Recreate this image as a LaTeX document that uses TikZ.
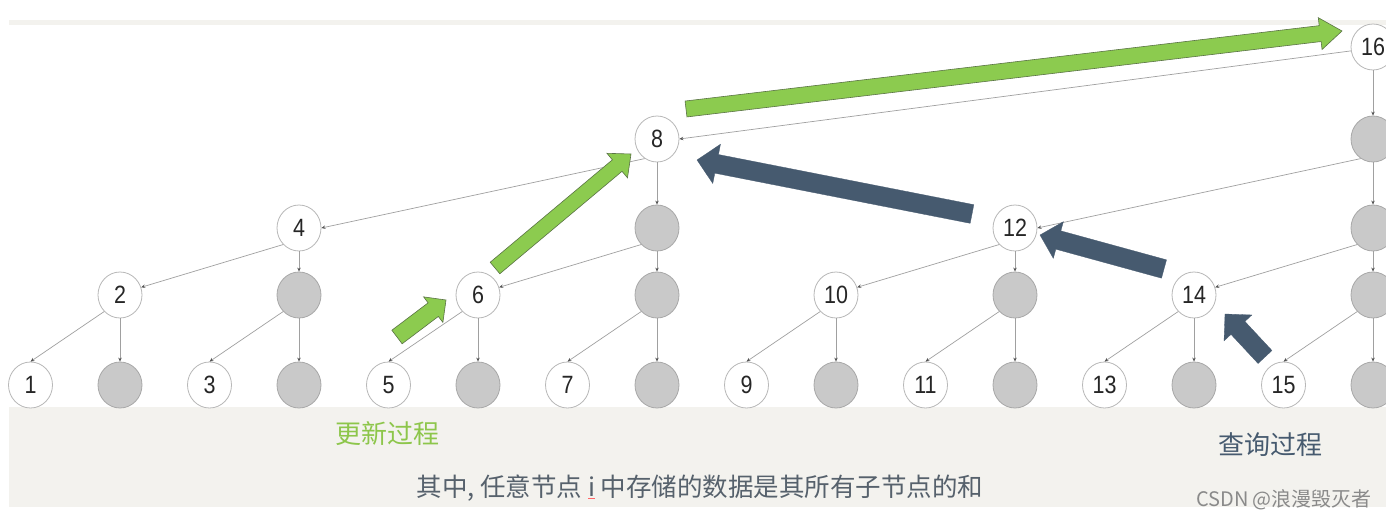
\documentclass[tikz,border=0pt]{standalone}
\usepackage{fontspec}
\setmainfont{Liberation Sans}
\newfontfamily\numfont[FakeStretch=0.86]{Liberation Sans}
\newfontfamily\cjk{Noto Sans CJK SC}
\usetikzlibrary{calc,arrows.meta,shapes.geometric}
\definecolor{edgec}{HTML}{A0A0A0}
\definecolor{tipc}{HTML}{555555}
\definecolor{nodeb}{HTML}{B8B8B8}
\definecolor{grayf}{HTML}{C9C9C9}
\definecolor{grayb}{HTML}{A8A8A8}
\definecolor{bandc}{HTML}{F3F2EE}
\definecolor{greenf}{HTML}{8CCB4F}
\definecolor{greenb}{HTML}{5A7345}
\definecolor{slate}{HTML}{465A6F}
\definecolor{txtgray}{HTML}{56616C}
\definecolor{greentxt}{HTML}{8DC64B}
\definecolor{wmark}{HTML}{8A8A8A}
% block arrow: #1 style, #2 tail, #3 tip, #4 half shaft, #5 half head, #6 head length
\newcommand{\bigarrow}[6]{%
  \coordinate (ba) at ($#3!#6!#2$);
  \filldraw[#1] ($#2!#4!90:#3$) -- ($(ba)!#4!90:#3$) -- ($(ba)!#5!90:#3$) -- #3
     -- ($(ba)!#5!-90:#3$) -- ($(ba)!#4!-90:#3$) -- ($#2!#4!-90:#3$) -- cycle;}
\begin{document}
\begin{tikzpicture}[x=1pt,y=-1pt,
  wn/.style={ellipse, draw=nodeb, fill=white, line width=0.8pt, minimum width=44pt,
     minimum height=46pt, inner sep=0pt, font=\numfont\fontsize{25}{25}\selectfont, text=black!85},
  gn/.style={wn, fill=grayf, draw=grayb},
  ed/.style={draw=edgec, line width=0.7pt, -{Stealth[length=4pt,width=3.5pt,color=tipc]}},
  garrow/.style={fill=greenf, draw=greenb, line width=0.6pt, line join=miter},
  darrow/.style={fill=slate, draw=slate, line width=0.3pt, line join=miter}]
\useasboundingbox (0,0) rectangle (1386,521);
\clip (0,0) rectangle (1386,521);
\fill[white] (0,0) rectangle (1386,521);
\fill[bandc] (9,20) rectangle (1386,25);
\fill[bandc] (9,407) rectangle (1386,507);
% leaves
\foreach \i in {1,...,16}{
  \pgfmathsetmacro\xx{30.5+89.5*(\i-1)}
  \ifodd\i \node[wn] (l\i) at (\xx,385) {\i}; \else \node[gn] (l\i) at (\xx,385) {}; \fi
}
% level 1
\foreach \i in {2,4,...,16}{
  \pgfmathsetmacro\xx{30.5+89.5*(\i-1)}
  \pgfmathtruncatemacro\r{mod(\i,4)}
  \ifnum\r=2 \node[wn] (m\i) at (\xx,295) {\i}; \else \node[gn] (m\i) at (\xx,295) {}; \fi
}
% level 2
\foreach \i in {4,8,12,16}{
  \pgfmathsetmacro\xx{30.5+89.5*(\i-1)}
  \pgfmathtruncatemacro\r{mod(\i,8)}
  \ifnum\r=4 \node[wn] (k\i) at (\xx,228) {\i}; \else \node[gn] (k\i) at (\xx,228) {}; \fi
}
% level 3
\node[wn] (j8) at (657,139) {8};
\node[gn] (j16) at (1373,139) {};
% level 4
\node[wn] (t16) at (1373,47) {16};
% edges
\foreach \i in {2,4,...,16}{
  \pgfmathtruncatemacro\a{\i-1}
  \draw[ed] (m\i.south west) -- (l\a.north);
  \draw[ed] (m\i) -- (l\i);
}
\foreach \i in {4,8,12,16}{
  \pgfmathtruncatemacro\a{\i-2}
  \draw[ed] (k\i.south west) -- (m\a.20);
  \draw[ed] (k\i) -- (m\i);
}
\foreach \i in {8,16}{
  \pgfmathtruncatemacro\a{\i-4}
  \draw[ed] (j\i.238) -- (k\a.east);
  \draw[ed] (j\i) -- (k\i);
}
\draw[ed] (t16.190) -- (j8.east);
\draw[ed] (t16) -- (j16);
% big arrows
\coordinate (g1a) at (686,109); \coordinate (g1b) at (1342,31);
\coordinate (g2a) at (495,268); \coordinate (g2b) at (631,154);
\coordinate (g3a) at (397,337); \coordinate (g3b) at (446,300);
\coordinate (d1a) at (972,214); \coordinate (d1b) at (697,160);
\coordinate (d2a) at (1164,269); \coordinate (d2b) at (1040,235);
\coordinate (d3a) at (1265,357); \coordinate (d3b) at (1225,314);
\bigarrow{garrow}{(g1a)}{(g1b)}{8pt}{16pt}{22pt}
\bigarrow{garrow}{(g2a)}{(g2b)}{7.5pt}{16pt}{18pt}
\bigarrow{garrow}{(g3a)}{(g3b)}{8.5pt}{16pt}{16pt}
\bigarrow{darrow}{(d1a)}{(d1b)}{9.5pt}{20pt}{20pt}
\bigarrow{darrow}{(d2a)}{(d2b)}{9.5pt}{19pt}{19pt}
\bigarrow{darrow}{(d3a)}{(d3b)}{9.5pt}{19pt}{19pt}
% texts
\node[font=\cjk\fontsize{26}{26}\selectfont, text=greentxt] (upd) at (387,434) {更新过程};
\node[font=\cjk\fontsize{26}{26}\selectfont, text=slate] (qry) at (1270,445) {查询过程};
\node[font=\cjk\fontsize{25.5}{25.5}\selectfont, text=txtgray] (note) at (700,488)
  {其中, 任意节点 {\color{red!60}\underline{\color{txtgray}i}} 中存储的数据是其所有子节点的和};
\node[font=\cjk\fontsize{20}{20}\selectfont, text=wmark] (wm) at (1284,500) {CSDN @浪漫毁灭者};
\end{tikzpicture}
\end{document}
